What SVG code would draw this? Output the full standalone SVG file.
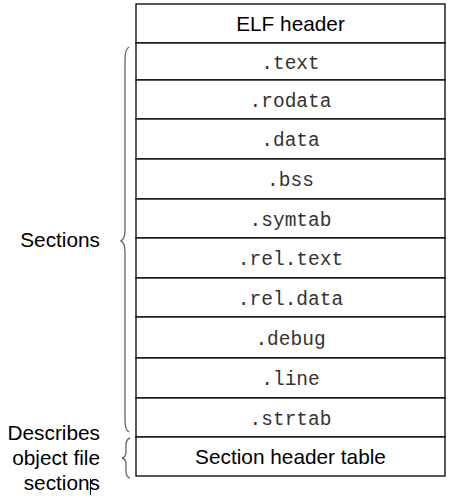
<svg xmlns="http://www.w3.org/2000/svg" width="452" height="504" viewBox="0 0 452 504">
<style>
.cell{fill:#fff;stroke:#000;stroke-width:1.3}
.sans{font-family:"Liberation Sans",Arial,sans-serif;font-size:20.8px;fill:#000}
.mono{font-family:"Liberation Mono","Courier New",monospace;font-size:19.5px;fill:#333;text-anchor:middle}
.mid{text-anchor:middle}
.end{text-anchor:end}
.brace{fill:none;stroke:#666;stroke-width:1.3}
</style>
<rect width="452" height="504" fill="#fff"/>
<g id="elf-header"><rect class="cell" x="136" y="4" width="309" height="39"/><text class="sans mid" x="290.5" y="31">ELF header</text></g>
<g id="text"><rect class="cell" x="136" y="43" width="309" height="37"/><text class="mono" x="290.5" y="68.5">.text</text></g>
<g id="rodata"><rect class="cell" x="136" y="80" width="309" height="39"/><text class="mono" x="290.5" y="107">.rodata</text></g>
<g id="data"><rect class="cell" x="136" y="119" width="309" height="40"/><text class="mono" x="290.5" y="146">.data</text></g>
<g id="bss"><rect class="cell" x="136" y="159" width="309" height="40"/><text class="mono" x="290.5" y="186">.bss</text></g>
<g id="symtab"><rect class="cell" x="136" y="199" width="309" height="39"/><text class="mono" x="290.5" y="225.5">.symtab</text></g>
<g id="rel-text"><rect class="cell" x="136" y="238" width="309" height="40"/><text class="mono" x="290.5" y="265">.rel.text</text></g>
<g id="rel-data"><rect class="cell" x="136" y="278" width="309" height="39"/><text class="mono" x="290.5" y="304.5">.rel.data</text></g>
<g id="debug"><rect class="cell" x="136" y="317" width="309" height="41"/><text class="mono" x="290.5" y="344.5">.debug</text></g>
<g id="line"><rect class="cell" x="136" y="358" width="309" height="40"/><text class="mono" x="290.5" y="385">.line</text></g>
<g id="strtab"><rect class="cell" x="136" y="398" width="309" height="39"/><text class="mono" x="290.5" y="424.5">.strtab</text></g>
<g id="section-header-table"><rect class="cell" x="136" y="437" width="309" height="39"/><text class="sans mid" x="290.5" y="464">Section header table</text></g>
<g id="connectors">
<path class="brace" d="M129,47 Q125,49 125,60 L125,230 Q125,240 120.5,241 Q125,242 125,252 L125,420 Q125,430 129,432"/>
<path class="brace" d="M130,438 Q126,439 126,446 L126,452 Q126,457 122,458 Q126,459 126,464 L126,471 Q126,477 130,478"/>
</g>
<g id="label-sections"><text class="sans end" x="100" y="247">Sections</text></g>
<g id="label-describes">
<text class="sans end" x="100" y="440">Describes</text>
<text class="sans end" x="100" y="465">object file</text>
<text class="sans end" x="100" y="490">sections</text>
<line x1="90.5" y1="479" x2="90.5" y2="495" stroke="#000" stroke-width="1"/>
</g>
</svg>
